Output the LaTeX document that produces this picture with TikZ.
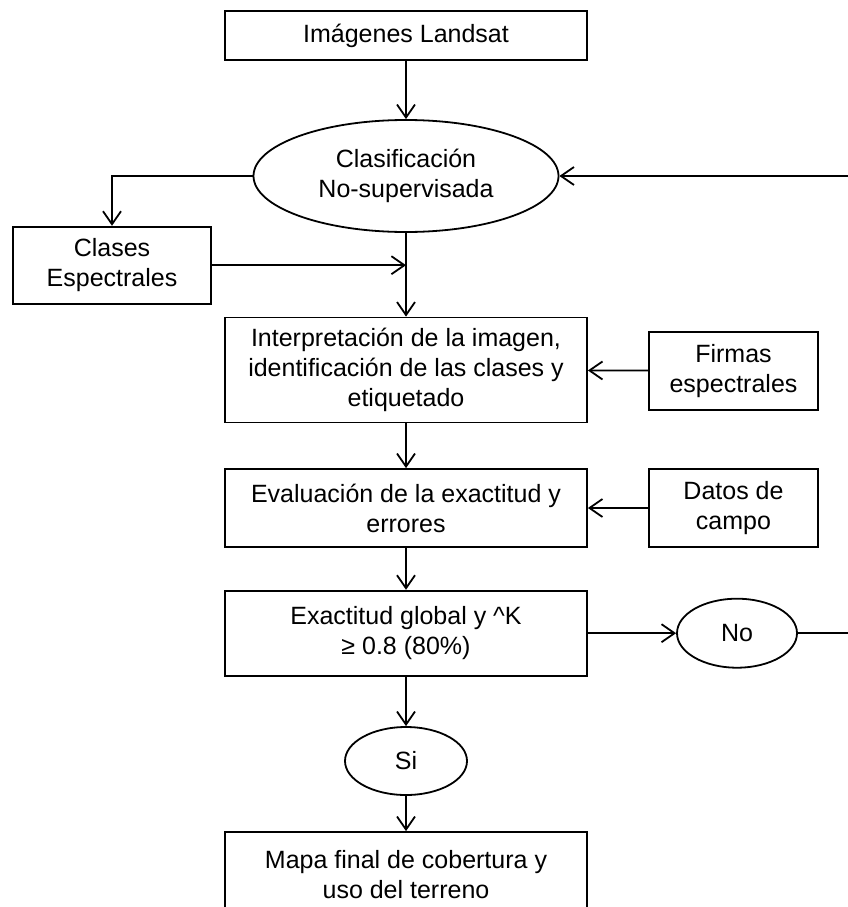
\documentclass[tikz,border=0pt]{standalone}
\usepackage{fontspec}
\setmainfont{Liberation Sans}
\usetikzlibrary{arrows.meta,shapes.geometric}

\begin{document}
\begin{tikzpicture}[x=1pt, y=-1pt, line width=1.8pt,
    font=\fontsize{25}{30}\selectfont,
    >={Straight Barb[length=13pt, width=18pt, line width=1.8pt]},
    stepbox/.style={draw, rectangle, inner sep=0pt, align=center},
    oval/.style={draw, ellipse, inner sep=0pt, align=center}]
  \def\W{362}
  \def\cx{406}

  \useasboundingbox (0, 0) rectangle (848, 907);
  \clip (0, 0) rectangle (848, 907);

  \node[stepbox, minimum width=\W, minimum height=49] (landsat) at (\cx, 35.5) {Imágenes Landsat};
  \node[oval, minimum width=305, minimum height=112] (clasif) at (\cx, 176) {Clasificación\\No-supervisada};
  \node[stepbox, minimum width=198, minimum height=77] (clases) at (112, 265.2) {Clases\\Espectrales};
  \node[stepbox, minimum width=\W, minimum height=105] (interp) at (\cx, 370)
    {Interpretación de la imagen,\\identificación de las clases y\\etiquetado};
  \node[stepbox, minimum width=169, minimum height=78] (firmas) at (733.5, 370.8) {Firmas\\espectrales};
  \node[stepbox, minimum width=\W, minimum height=78] (eval) at (\cx, 508) {Evaluación de la exactitud y\\errores};
  \node[stepbox, minimum width=169, minimum height=78] (datos) at (733.5, 508) {Datos de\\campo};
  \node[stepbox, minimum width=\W, minimum height=85] (exact) at (\cx, 633.2)
    {Exactitud global y \textasciicircum K\\≥ 0.8 (80\%)};
  \node[oval, minimum width=120, minimum height=69] (no) at (737, 633.2) {No};
  \node[oval, minimum width=122, minimum height=68] (si) at (\cx, 761) {Si};
  \node[stepbox, minimum width=\W, minimum height=86] (mapa) at (\cx, 875)
    {Mapa final de cobertura y\\uso del terreno};

  \coordinate (join) at (clasif.south |- clases.east);

  \draw[->] (landsat) -- (clasif);
  \draw[->] (clasif.west) -| (clases.north);
  \draw[->] (clases.east) -- (join);
  \draw[->] (clasif.south) -- (interp.north);
  \draw[->] (firmas) -- (interp);
  \draw[->] (interp) -- (eval);
  \draw[->] (datos) -- (eval);
  \draw[->] (eval) -- (exact);
  \draw[->] (exact) -- (no);
  \draw[->] (no.east) -- ++(70, 0) |- (clasif.east);
  \draw[->] (exact) -- (si);
  \draw[->] (si) -- (mapa);
\end{tikzpicture}
\end{document}
